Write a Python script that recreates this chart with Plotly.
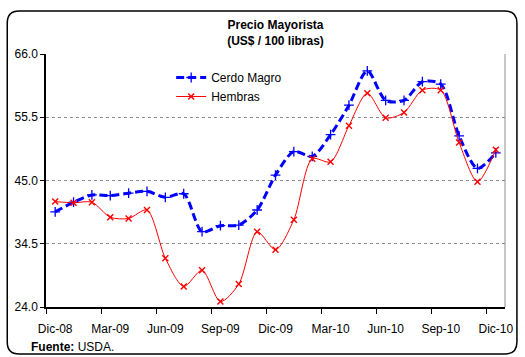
import plotly.graph_objects as go

# Monthly wholesale hog prices, US$ per 100 lb
months = ["Dic-08", "Ene-09", "Feb-09", "Mar-09", "Abr-09", "May-09", "Jun-09",
          "Jul-09", "Ago-09", "Sep-09", "Oct-09", "Nov-09", "Dic-09", "Ene-10",
          "Feb-10", "Mar-10", "Abr-10", "May-10", "Jun-10", "Jul-10", "Ago-10",
          "Sep-10", "Oct-10", "Nov-10", "Dic-10"]
cerdo_magro = [39.8, 41.4, 42.6, 42.5, 42.9, 43.2, 42.2, 42.8, 36.5, 37.5, 37.6, 40.1,
               45.9, 49.8, 49.0, 52.6, 57.5, 63.2, 58.3, 58.3, 61.4, 61.0, 52.4, 47.0, 49.6]
hembras = [41.5, 41.3, 41.4, 38.9, 38.7, 40.1, 32.1, 27.4, 30.1, 24.9, 27.8, 36.5,
           33.5, 38.5, 48.6, 48.1, 54.1, 59.5, 55.4, 56.3, 60.0, 60.0, 51.3, 44.8, 50.1]
tick_labels = ["Dic-08", "Mar-09", "Jun-09", "Sep-09", "Dic-09", "Mar-10", "Jun-10",
               "Sep-10", "Dic-10"]
y_ticks = [24.0, 34.5, 45.0, 55.5, 66.0]

x = list(range(len(months)))
tick_pos = [months.index(t) for t in tick_labels]

FONT = "Arial, Liberation Sans, sans-serif"

fig = go.Figure()
fig.add_trace(go.Scatter(
    x=x, y=cerdo_magro, name="Cerdo Magro", mode="lines+markers",
    line=dict(color="#0000FF", width=3, dash="8px,4px", shape="spline", smoothing=0.8),
    marker=dict(symbol="cross-thin", size=7, line=dict(color="#0000FF", width=1.3)),
))
fig.add_trace(go.Scatter(
    x=x, y=hembras, name="Hembras", mode="lines+markers",
    line=dict(color="#FF0000", width=1, shape="spline", smoothing=0.8),
    marker=dict(symbol="x-thin", size=6, line=dict(color="#FF0000", width=1.4)),
))

# pixel -> paper helpers for the plot area (l=46, r=508, t=54, b=307)
L, R, T, B = 46, 508, 54, 307
def px(v):
    return (v - L) / (R - L)
def py(v):
    return (B - v) / (B - T)

x0, x1, y0, y1 = px(7), px(520), py(354), py(11)
rx, ry = 12 / (R - L), 12 / (B - T)
frame = (f"M {x0+rx},{y1} L {x1-rx},{y1} Q {x1},{y1} {x1},{y1-ry} "
         f"L {x1},{y0+ry} Q {x1},{y0} {x1-rx},{y0} L {x0+rx},{y0} "
         f"Q {x0},{y0} {x0},{y0+ry} L {x0},{y1-ry} Q {x0},{y1} {x0+rx},{y1} Z")

fig.update_layout(
    width=525, height=357,
    margin=dict(l=L, r=525 - R, t=T, b=357 - B),
    paper_bgcolor="white", plot_bgcolor="white",
    font=dict(family=FONT, size=12, color="black"),
    title=dict(text="<b>Precio Mayorista<br>(US$ / 100 libras)</b>",
               x=0.5, xref="paper", xanchor="center",
               y=1 - 29 / 357, yref="container", yanchor="top",
               font=dict(family=FONT, size=12, color="black")),
    showlegend=True,
    legend=dict(x=px(172), y=py(63), xanchor="left", yanchor="top",
                bgcolor="rgba(0,0,0,0)", font=dict(size=12, color="black"),
                itemwidth=30, tracegroupgap=0),
    xaxis=dict(
        range=[-0.5, len(months) - 0.5],
        tickmode="array", tickvals=tick_pos, ticktext=tick_labels,
        ticks="outside", ticklen=10, tickcolor="rgba(0,0,0,0)",
        showgrid=False, zeroline=False,
        showline=True, linecolor="black", linewidth=1.5,
        tickfont=dict(size=12, color="black"),
        minor=dict(tickmode="array",
                   tickvals=[p - 0.5 for p in tick_pos],
                   ticks="outside", ticklen=5, tickcolor="black", tickwidth=1,
                   showgrid=False),
    ),
    yaxis=dict(
        range=[24, 66], tickmode="array", tickvals=y_ticks,
        ticktext=[f"{v:.1f}" for v in y_ticks],
        ticks="outside", ticklen=4, tickcolor="black",
        showgrid=True, gridcolor="#8c8c8c", griddash="dot", gridwidth=1,
        zeroline=False, showline=True, linecolor="black", linewidth=1.5,
        tickfont=dict(size=12, color="black"),
    ),
    shapes=[
        dict(type="line", xref="paper", yref="paper", x0=1, x1=1, y0=0, y1=1,
             line=dict(color="#8c8c8c", width=1)),
        dict(type="path", xref="paper", yref="paper", path=frame,
             line=dict(color="black", width=1.5), layer="above"),
    ],
    annotations=[
        dict(text="<b>Fuente:</b> USDA.", xref="paper", yref="paper",
             x=px(29), y=py(347), xanchor="left", yanchor="middle",
             showarrow=False, font=dict(family=FONT, size=12, color="black")),
    ],
)

fig.write_html("out.html")
